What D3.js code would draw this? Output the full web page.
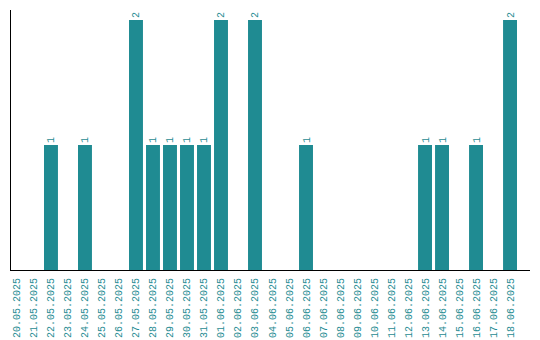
<!DOCTYPE html>
<html>
<head>
<meta charset="utf-8">
<script src="https://cdn.jsdelivr.net/npm/d3@7"></script>
<style>
  body { margin: 0; background: #fff; }
  text { font-family: "Liberation Mono", monospace; font-size: 10px; }
</style>
</head>
<body>
<svg id="chart"></svg>
<script>
const dates = ["20.05.2025","21.05.2025","22.05.2025","23.05.2025","24.05.2025","25.05.2025",
  "26.05.2025","27.05.2025","28.05.2025","29.05.2025","30.05.2025","31.05.2025","01.06.2025",
  "02.06.2025","03.06.2025","04.06.2025","05.06.2025","06.06.2025","07.06.2025","08.06.2025",
  "09.06.2025","10.06.2025","11.06.2025","12.06.2025","13.06.2025","14.06.2025","15.06.2025",
  "16.06.2025","17.06.2025","18.06.2025"];
const counts = [0,0,1,0,1,0,0,2,1,1,1,1,2,0,2,0,0,1,0,0,0,0,0,0,1,1,0,1,0,2];

const width = 540, height = 340;
const margin = { top: 10, right: 10, bottom: 70, left: 10 };
const color = "#1f8b92";

const svg = d3.select("#chart")
  .attr("width", width)
  .attr("height", height);

const x = d3.scaleBand()
  .domain(dates)
  .range([margin.left, margin.left + 507])
  .paddingInner(0.18)
  .paddingOuter(0);

const y = d3.scaleLinear()
  .domain([0, 2.08])
  .range([height - margin.bottom, margin.top]);

const data = dates.map((d, i) => ({ date: d, value: counts[i] }));

svg.append("g")
  .selectAll("rect")
  .data(data.filter(d => d.value > 0))
  .join("rect")
    .attr("x", d => x(d.date))
    .attr("y", d => y(d.value))
    .attr("width", x.bandwidth())
    .attr("height", d => y(0) - y(d.value))
    .attr("fill", color);

svg.append("g")
  .selectAll("text")
  .data(data.filter(d => d.value > 0))
  .join("text")
    .attr("transform", d => `translate(${x(d.date) + x.bandwidth() / 2 + 3.5},${y(d.value) - 2}) rotate(-90)`)
    .attr("fill", color)
    .text(d => d.value);

// axes lines
svg.append("line")
  .attr("x1", margin.left + 0.5).attr("x2", margin.left + 0.5)
  .attr("y1", margin.top).attr("y2", y(0))
  .attr("stroke", "#000");

svg.append("line")
  .attr("x1", margin.left).attr("x2", width - margin.right)
  .attr("y1", y(0) + 0.5).attr("y2", y(0) + 0.5)
  .attr("stroke", "#000");

svg.append("g")
  .selectAll("text")
  .data(dates)
  .join("text")
    .attr("transform", d => `translate(${x(d) + x.bandwidth() / 2 + 3.5},${y(0) + 8}) rotate(-90)`)
    .attr("text-anchor", "end")
    .attr("fill", color)
    .text(d => d);
</script>
</body>
</html>
